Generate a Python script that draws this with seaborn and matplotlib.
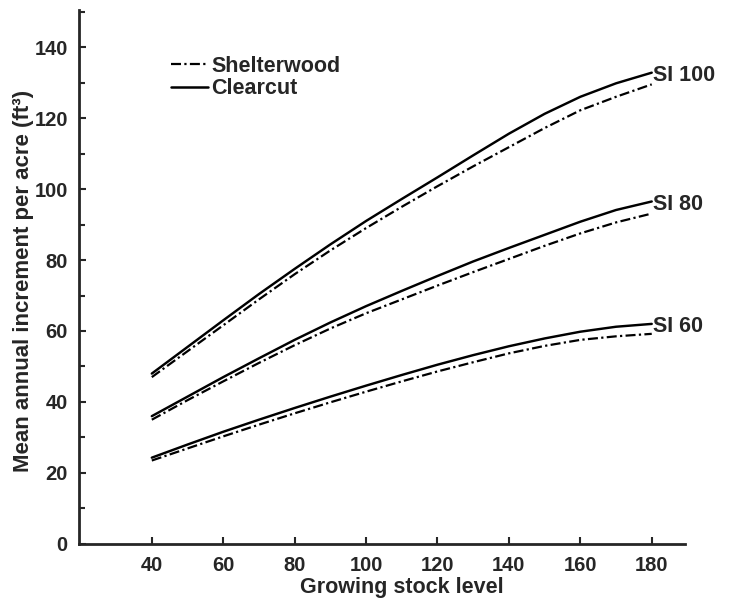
import matplotlib
matplotlib.use("Agg")
import matplotlib.pyplot as plt
import seaborn as sns
import pandas as pd
from matplotlib.lines import Line2D
from matplotlib.ticker import MultipleLocator

growing_stock = [40, 50, 60, 70, 80, 90, 100, 110, 120, 130, 140, 150, 160, 170, 180]
site_labels = ["SI 100", "SI 80", "SI 60"]
clearcut = {
    "SI 100": [48.0, 55.5, 63.0, 70.4, 77.5, 84.4, 91.0, 97.2, 103.3, 109.5, 115.6, 121.2, 126.0, 129.8, 132.8],
    "SI 80": [36.0, 41.5, 47.0, 52.3, 57.5, 62.4, 67.0, 71.3, 75.5, 79.6, 83.4, 87.1, 90.8, 94.1, 96.5],
    "SI 60": [24.3, 28.0, 31.6, 35.0, 38.3, 41.5, 44.6, 47.6, 50.5, 53.2, 55.7, 57.9, 59.8, 61.2, 62.0],
}
shelterwood = {
    "SI 100": [47.0, 54.3, 61.6, 68.9, 76.0, 82.7, 89.0, 95.0, 100.8, 106.4, 111.8, 117.2, 122.2, 126.0, 129.5],
    "SI 80": [35.0, 40.5, 45.8, 51.0, 56.0, 60.7, 65.0, 68.9, 72.8, 76.6, 80.3, 84.0, 87.5, 90.6, 93.1],
    "SI 60": [23.5, 26.9, 30.3, 33.6, 36.8, 39.9, 42.9, 45.8, 48.6, 51.2, 53.7, 55.8, 57.5, 58.5, 59.2],
}
y_ticks = [0, 20, 40, 60, 80, 100, 120, 140]
x_ticks = [40, 60, 80, 100, 120, 140, 160, 180]

rows = []
for s in site_labels:
    for x, v in zip(growing_stock, clearcut[s]):
        rows.append(dict(gsl=x, mai=v, site=s, method="Clearcut"))
    for x, v in zip(growing_stock, shelterwood[s]):
        rows.append(dict(gsl=x, mai=v, site=s, method="Shelterwood"))
df = pd.DataFrame(rows)

sns.set_style("ticks")
plt.rcParams["font.family"] = ["Liberation Sans", "DejaVu Sans"]
plt.rcParams["font.weight"] = "bold"

fig = plt.figure(figsize=(7.31, 6.01), dpi=100)
ax = fig.add_axes([0.108, 0.095, 0.829, 0.888])

dash_dot = (4.5, 1.5, 1.0, 1.5)
for s in site_labels:
    sub = df[df.site == s]
    sns.lineplot(data=sub[sub.method == "Clearcut"], x="gsl", y="mai", ax=ax,
                 color="black", lw=1.75, legend=False, estimator=None)
    sns.lineplot(data=sub[sub.method == "Shelterwood"], x="gsl", y="mai", ax=ax,
                 color="black", lw=1.6, legend=False, estimator=None)
    ax.lines[-1].set_dashes(dash_dot)
    ax.text(growing_stock[-1] + 0.3, clearcut[s][-1] - 0.8, s, fontsize=15.5,
            fontweight="bold", va="center", ha="left")

ax.set_xlim(19.6, 189.3)
ax.set_ylim(0, 150.4)
ax.set_xticks(x_ticks)
ax.set_yticks(y_ticks)
ax.yaxis.set_minor_locator(MultipleLocator(10))
ax.tick_params(axis="both", which="major", direction="in", length=5, width=1.5,
               labelsize=14.5)
ax.tick_params(axis="y", which="major", pad=8)
ax.tick_params(axis="x", which="major", pad=9)
ax.tick_params(axis="y", which="minor", direction="in", length=4, width=1.5)
for lab in ax.get_xticklabels() + ax.get_yticklabels():
    lab.set_fontweight("bold")
sns.despine(ax=ax)
for sp in ["left", "bottom"]:
    ax.spines[sp].set_linewidth(2)

ax.set_xlabel("Growing stock level", fontsize=15.5, fontweight="bold")
ax.set_ylabel("Mean annual increment per acre (ft³)", fontsize=16, fontweight="bold")
ax.xaxis.set_label_coords(0.533, -0.062)
ax.yaxis.set_label_coords(-0.074, 0.4925)

handles = [Line2D([], [], color="black", lw=1.6, dashes=dash_dot),
           Line2D([], [], color="black", lw=1.8)]
ax.legend(handles, ["Shelterwood", "Clearcut"], loc="upper left",
          bbox_to_anchor=(0.152, 0.915), frameon=False, borderpad=0,
          borderaxespad=0, handlelength=1.72, handletextpad=0.15,
          labelspacing=0.08, prop=dict(weight="bold", size=15.5))

fig.savefig("out.png", dpi=100)
